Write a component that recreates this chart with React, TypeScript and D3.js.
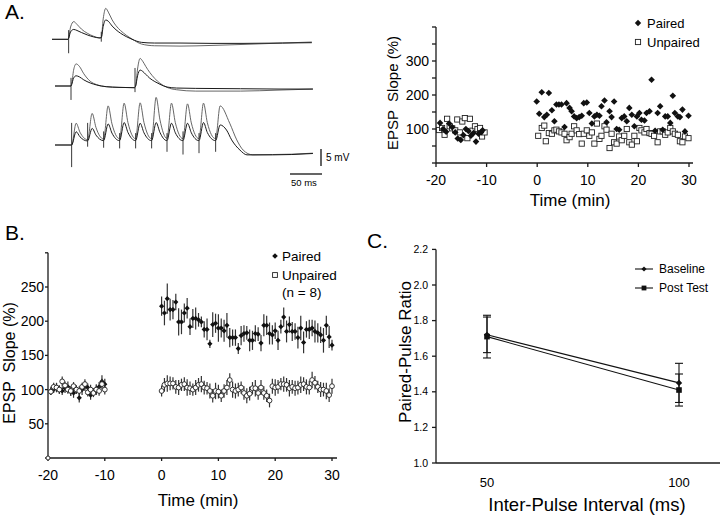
import React from 'react';
import * as d3 from 'd3';

const FONT = "'Liberation Sans', Arial, Helvetica, sans-serif";

// ---------------- Panel A: traces (ms, mV) ----------------
const tr1Large: [number, number][] = [[0,0],[25,0],[26,0.3],[29,3.6],[34,5.2],[39,4.4],[46,3.0],[55,1.8],[65,0.9],[75,0.4],[77,0.6],[80,6],[84,9.1],[88,8.0],[94,5.7],[100,4.0],[107,2.6],[116,1.2],[125,0.1],[140,-1.4],[160,-1.9],[200,-2.0],[250,-1.8],[300,-1.5],[360,-1.1],[406,-0.8]];
const tr1Small: [number, number][] = [[0,0],[25,0],[26,0.3],[29,2.2],[34,2.9],[39,2.6],[46,2.0],[55,1.3],[65,0.7],[75,0.4],[77,0.5],[80,3.8],[84,5.7],[88,5.3],[94,3.9],[100,2.8],[107,1.8],[116,0.8],[125,0.0],[140,-0.9],[160,-1.1],[200,-1.1],[250,-1.2],[300,-1.2],[360,-1.1],[406,-1.0]];
const tr1Stims: [number, number, number][] = [[26,-4.1,2.7],[77,-0.7,2.2]];

const tr2Large: [number, number][] = [[0,0],[25,0],[26,0.5],[29,4.6],[33,6.5],[38,5.8],[45,3.6],[55,1.4],[65,0.4],[80,-0.2],[100,-0.4],[124,-0.5],[126,0],[129,5],[133,8.1],[137,7.3],[142,5.7],[148,4.0],[156,2.2],[164,0.8],[175,-0.4],[190,-1.1],[220,-1.5],[290,-1.5],[350,-1.2],[403,-0.9]];
const tr2Small: [number, number][] = [[0,0],[25,0],[26,0.4],[29,2.3],[33,3.0],[38,2.7],[45,1.8],[55,0.9],[65,0.3],[80,-0.2],[100,-0.4],[124,-0.5],[126,0],[129,3.0],[133,4.7],[137,4.3],[142,3.4],[148,2.3],[156,1.3],[164,0.5],[175,-0.3],[190,-0.6],[220,-0.7],[290,-0.8],[350,-0.9],[403,-0.9]];
const tr2Stims: [number, number, number][] = [[25,-4.1,2.4],[125,-1.8,5.3]];

const tr3StimT = [26, 51, 76, 101, 126, 151, 175, 200, 225, 251];
const tr3PeakLarge = [6.4, 9.3, 11.5, 12.3, 12.4, 14.0, 12.3, 12.1, 12.3, 11.5];
const tr3PeakSmall = [3.9, 4.9, 6.2, 6.6, 6.4, 6.6, 6.4, 6.4, 6.6, 5.9];
const tr3TroughLarge = [0, 1.6, 1.8, 1.9, 1.9, 1.9, 2.0, 1.9, 1.9, 1.9];
const tr3TroughSmall = [0, 1.2, 1.3, 1.3, 1.3, 1.3, 1.3, 1.3, 1.3, 1.3];
const tr3TailLarge: [number, number][] = [[273, 6.4],[284, 1.5],[294,-1.5],[309,-2.9],[340,-2.8],[370,-2.7],[403,-2.4]];
const tr3TailSmall: [number, number][] = [[268, 4.4],[276, 1.5],[289,-1.5],[300,-2.9],[340,-2.9],[370,-2.8],[403,-2.5]];
const tr3Stims: [number, number, number][] = [[26,-6.5,6.5],[51,-0.5,6.5],[76,-0.8,4],[101,-1,3.5],[126,-1,3.5],[151,-1,3.5],[175,-2,3.5],[200,-2.8,4],[225,-2.4,3.5],[251,-2.0,3.5]];

// ---------------- Panel A: scatter ----------------
const aPairedT = [-19.2,-18.6,-18.0,-17.4,-16.8,-16.2,-15.7,-15.1,-14.6,-14.1,-13.6,-13.1,-12.6,-12.1,-11.6,-11.1,-10.8,
  -0.1,0.4,0.9,1.4,1.9,2.3,2.9,3.4,3.8,4.3,4.8,5.4,5.8,6.4,6.8,7.3,7.8,8.3,8.8,9.2,9.8,10.3,10.8,11.3,11.8,12.3,12.7,13.3,13.7,14.3,14.7,15.2,15.7,16.2,16.7,17.2,17.7,18.2,18.7,19.2,19.7,20.2,20.6,21.2,21.6,22.2,22.6,23.3,23.8,24.3,24.8,25.3,25.8,26.3,26.8,27.2,27.8,28.2,28.7,29.2,29.9];
const aPairedV = [118,100,92,116,105,90,72,68,82,100,94,80,88,63,86,90,96,
  181,145,208,135,142,206,155,123,172,172,172,106,176,162,152,137,132,135,139,176,178,147,116,137,142,139,167,184,120,152,135,181,100,98,132,137,123,162,142,108,137,147,127,125,147,152,245,95,147,167,98,137,137,118,198,147,137,135,157,93,139];
const aUnpT = [-19.4,-18.8,-18.3,-17.8,-17.3,-16.8,-16.2,-15.8,-15.3,-14.8,-14.3,-13.8,-13.3,-12.8,-12.3,-11.8,-11.3,-10.9,-10.4,
  0.2,0.9,1.4,1.7,2.3,2.9,3.4,3.8,4.3,4.8,5.4,5.8,6.4,6.8,7.3,7.8,8.3,8.8,9.2,9.8,10.3,10.8,11.3,11.8,12.3,12.7,13.3,13.7,14.3,14.7,15.2,15.7,16.2,16.7,17.2,17.7,18.2,18.7,19.2,19.7,20.2,20.6,21.2,21.6,22.2,22.6,23.1,23.8,24.3,24.8,25.3,25.8,26.3,26.8,27.2,27.8,28.2,28.7,29.2,29.9];
const aUnpV = [97,103,83,130,108,102,96,128,90,122,132,73,130,95,108,100,103,78,90,
  80,103,110,64,88,86,96,98,93,90,86,67,76,86,108,96,85,57,86,96,80,90,57,116,71,80,108,98,44,86,61,57,78,67,80,100,61,54,80,64,103,96,90,100,88,86,80,61,93,93,83,90,103,93,86,83,64,61,78,73];

// ---------------- Panel B ----------------
const bBaseT = d3.range(-19.5, -9.9, 0.5);
const bPostT = d3.range(0, 30.01, 0.5);
const bPairedBase = [98,100,103,100,98,102,104,97,95,100,88,100,105,103,92,96,100,104,112,108];
const bPairedBaseErr = [6,5,7,6,6,7,8,6,7,6,7,8,7,6,7,6,8,7,9,8];
const bUnpBase = [97,104,103,100,112,106,100,98,105,100,98,104,108,96,100,95,100,98,108,100];
const bUnpBaseErr = [5,6,6,6,7,6,6,7,6,6,7,6,7,6,7,6,6,7,8,7];
const bPairedPost = [222,212,233,217,217,228,199,199,212,219,192,204,204,202,199,188,188,167,195,197,190,190,186,194,176,176,176,160,179,182,183,172,172,182,181,168,194,194,182,180,186,172,192,206,185,195,185,185,176,190,169,188,188,190,185,183,180,172,194,177,165];
const bPairedPostErr = [14,18,22,16,14,12,20,18,14,15,12,14,16,10,8,12,16,6,18,14,20,14,16,18,14,12,12,8,14,12,10,16,14,12,10,12,16,14,16,14,12,14,10,14,16,12,14,12,16,18,16,12,14,12,16,14,12,18,14,16,8];
const bUnpPost = [98,107,109,109,109,104,103,107,108,103,102,100,103,107,108,103,102,98,91,98,97,91,98,103,114,100,98,100,103,95,91,94,102,102,95,103,95,91,84,105,103,104,108,108,107,102,104,102,103,107,108,104,103,114,110,104,100,100,98,92,105];
const bUnpPostErr = [8,10,12,10,9,10,11,9,10,12,10,9,11,10,12,10,9,11,10,12,10,9,10,11,10,12,11,10,9,10,11,10,9,12,10,11,10,9,10,11,12,10,9,11,10,12,10,11,10,12,10,11,10,12,10,9,11,10,12,10,11];

// ---------------- Panel C ----------------
const cIntervals = [50, 100];
const cBaseline = [1.72, 1.45];
const cBaselineErr = [0.10, 0.11];
const cPost = [1.71, 1.41];
const cPostErr = [0.12, 0.09];
const cYTicks = [1.0, 1.2, 1.4, 1.6, 1.8, 2.0, 2.2];

const diamond = (r: number) => `M0,${-r}L${r},0L0,${r}L${-r},0Z`;

function Trace({ x0, y0, large, small, stims }: { x0: number; y0: number; large: [number, number][]; small: [number, number][]; stims: [number, number, number][] }) {
  const x = d3.scaleLinear().domain([0, 50]).range([x0, x0 + 32]);
  const y = d3.scaleLinear().domain([0, 5]).range([y0, y0 - 17]);
  const line = d3.line<[number, number]>().x(d => x(d[0])).y(d => y(d[1])).curve(d3.curveMonotoneX);
  return (
    <g fill="none">
      <path d={line(large) || ''} stroke="#555" strokeWidth={0.9} />
      <path d={line(small) || ''} stroke="#1a1a1a" strokeWidth={1} />
      {stims.map((s, i) => (
        <line key={i} x1={x(s[0])} x2={x(s[0])} y1={y(s[1])} y2={y(s[2])} stroke="#222" strokeWidth={0.9} />
      ))}
    </g>
  );
}

function buildTrain(stim: number[], peaks: number[], troughs: number[], tail: [number, number][]): [number, number][] {
  const pts: [number, number][] = [[0, 0], [stim[0] - 1, 0]];
  stim.forEach((t, k) => {
    const tr = troughs[k];
    const pk = peaks[k];
    const next = k + 1 < stim.length ? troughs[k + 1] : null;
    pts.push([t, tr]);
    pts.push([t + 7, pk]);
    if (next !== null) {
      pts.push([t + 13, next + (pk - next) * 0.45]);
      pts.push([stim[k + 1] - 0.5, next]);
    }
  });
  return pts.concat(tail);
}

export default function App() {
  // Panel A scatter scales
  const xA = d3.scaleLinear().domain([-20, 30]).range([436, 689]);
  const yA = d3.scaleLinear().domain([0, 400]).range([163, 27]);
  // Panel B
  const xB = d3.scaleLinear().domain([-20, 30]).range([48, 332]);
  const yB = d3.scaleLinear().domain([0, 300]).range([458, 252.8]);
  // Panel C
  const xC = d3.scaleLinear().domain([50, 100]).range([487, 679]);
  const yC = d3.scaleLinear().domain([1, 2.2]).range([463, 249.4]);

  const t3Large = buildTrain(tr3StimT, tr3PeakLarge, tr3TroughLarge, tr3TailLarge);
  const t3Small = buildTrain(tr3StimT, tr3PeakSmall, tr3TroughSmall, tr3TailSmall);

  const ax = '#1a1a1a';
  const cLine = d3.line<number>().x((_, i) => xC(cIntervals[i])).y(d => yC(d));

  return (
    <svg width={720} height={516} style={{ position: 'absolute', left: 0, top: 0, background: '#fff' }} fontFamily={FONT}>
      <rect width={720} height={516} fill="#fff" />
      {/* Panel labels */}
      <text x={5} y={19} fontSize={21}>A.</text>
      <text x={5} y={240} fontSize={21}>B.</text>
      <text x={367} y={248} fontSize={21}>C.</text>

      {/* ---------- Panel A traces ---------- */}
      <Trace x0={52} y0={39.3} large={tr1Large} small={tr1Small} stims={tr1Stims} />
      <Trace x0={55} y0={86} large={tr2Large} small={tr2Small} stims={tr2Stims} />
      <Trace x0={55} y0={145} large={t3Large} small={t3Small} stims={tr3Stims} />
      {/* scale bars */}
      <line x1={321} x2={321} y1={149} y2={166} stroke="#111" strokeWidth={1.3} />
      <text x={326} y={161} fontSize={10}>5 mV</text>
      <line x1={290} x2={322} y1={174} y2={174} stroke="#111" strokeWidth={1.3} />
      <text x={291} y={186} fontSize={9.5}>50 ms</text>

      {/* ---------- Panel A scatter ---------- */}
      <g stroke={ax} strokeWidth={1.3}>
        <line x1={436} x2={436} y1={yA(400)} y2={yA(0)} />
        <line x1={436} x2={693} y1={163} y2={163} />
        {d3.range(0, 401, 50).map(v => <line key={v} x1={432} x2={436} y1={yA(v)} y2={yA(v)} />)}
        {d3.range(-20, 31, 10).map(v => <line key={v} x1={xA(v)} x2={xA(v)} y1={163} y2={167} />)}
      </g>
      {[100, 200, 300].map(v => (
        <text key={v} x={429} y={yA(v) + 5} fontSize={14} textAnchor="end">{v}</text>
      ))}
      {d3.range(-20, 31, 10).map(v => (
        <text key={v} x={xA(v)} y={185} fontSize={14} textAnchor="middle">{v}</text>
      ))}
      <text x={570} y={206} fontSize={17} textAnchor="middle">Time (min)</text>
      <text transform={`translate(398,93) rotate(-90)`} fontSize={15} textAnchor="middle" style={{ whiteSpace: 'pre' }}>EPSP  Slope (%)</text>
      {aUnpT.map((t, i) => (
        <rect key={'u' + i} x={xA(t) - 2.6} y={yA(aUnpV[i]) - 2.6} width={5.2} height={5.2} fill="#fff" stroke="#222" strokeWidth={0.9} />
      ))}
      {aPairedT.map((t, i) => (
        <path key={'p' + i} d={diamond(3.3)} transform={`translate(${xA(t)},${yA(aPairedV[i])})`} fill="#111" />
      ))}
      {/* legend A */}
      <path d={diamond(3.2)} transform="translate(638,23)" fill="#111" />
      <text x={647} y={27.5} fontSize={13}>Paired</text>
      <rect x={635.4} y={39.4} width={5.2} height={5.2} fill="#fff" stroke="#222" strokeWidth={0.9} />
      <text x={647} y={46.5} fontSize={13}>Unpaired</text>

      {/* ---------- Panel B ---------- */}
      <g stroke={ax} strokeWidth={1.3}>
        <line x1={48} x2={48} y1={yB(300)} y2={yB(0)} />
        <line x1={48} x2={337} y1={458} y2={458} />
        {d3.range(0, 301, 50).map(v => <line key={v} x1={45} x2={48} y1={yB(v)} y2={yB(v)} />)}
        {d3.range(-20, 31, 10).map(v => <line key={v} x1={xB(v)} x2={xB(v)} y1={458} y2={461} />)}
      </g>
      <circle cx={48} cy={458} r={2} fill="#fff" stroke="#222" strokeWidth={0.9} />
      {d3.range(50, 251, 50).map(v => (
        <text key={v} x={44} y={yB(v) + 5} fontSize={14} textAnchor="end">{v}</text>
      ))}
      {d3.range(-20, 31, 10).map(v => (
        <text key={v} x={xB(v)} y={480} fontSize={14} textAnchor="middle">{v}</text>
      ))}
      <text x={198} y={506} fontSize={17} textAnchor="middle">Time (min)</text>
      <text transform={`translate(15,363) rotate(-90)`} fontSize={16} textAnchor="middle" style={{ whiteSpace: 'pre' }}>EPSP  Slope (%)</text>
      {/* paired error bars and points */}
      <g stroke="#333" strokeWidth={1.2}>
        {bBaseT.map((t, i) => <line key={'pb' + i} x1={xB(t)} x2={xB(t)} y1={yB(bPairedBase[i] - bPairedBaseErr[i])} y2={yB(bPairedBase[i] + bPairedBaseErr[i])} />)}
        {bPostT.map((t, i) => <line key={'pp' + i} x1={xB(t)} x2={xB(t)} y1={yB(bPairedPost[i] - bPairedPostErr[i])} y2={yB(bPairedPost[i] + bPairedPostErr[i])} />)}
      </g>
      {bBaseT.map((t, i) => <path key={'pbd' + i} d={diamond(2.6)} transform={`translate(${xB(t)},${yB(bPairedBase[i])})`} fill="#111" />)}
      {bPostT.map((t, i) => <path key={'ppd' + i} d={diamond(2.6)} transform={`translate(${xB(t)},${yB(bPairedPost[i])})`} fill="#111" />)}
      <g stroke="#333" strokeWidth={1.2}>
        {bBaseT.map((t, i) => <line key={'ub' + i} x1={xB(t)} x2={xB(t)} y1={yB(bUnpBase[i] - bUnpBaseErr[i])} y2={yB(bUnpBase[i] + bUnpBaseErr[i])} />)}
        {bPostT.map((t, i) => <line key={'up' + i} x1={xB(t)} x2={xB(t)} y1={yB(bUnpPost[i] - bUnpPostErr[i])} y2={yB(bUnpPost[i] + bUnpPostErr[i])} />)}
      </g>
      {bBaseT.map((t, i) => <circle key={'ubc' + i} cx={xB(t)} cy={yB(bUnpBase[i])} r={2.4} fill="#fff" stroke="#222" strokeWidth={0.9} />)}
      {bPostT.map((t, i) => <circle key={'upc' + i} cx={xB(t)} cy={yB(bUnpPost[i])} r={2.4} fill="#fff" stroke="#222" strokeWidth={0.9} />)}
      {/* legend B */}
      <path d={diamond(2.8)} transform="translate(275,256)" fill="#111" />
      <text x={282} y={261} fontSize={13.5}>Paired</text>
      <rect x={272.6} y={272.6} width={4.8} height={4.8} fill="#fff" stroke="#222" strokeWidth={0.9} />
      <text x={282} y={280} fontSize={13.5}>Unpaired</text>
      <text x={282} y={297} fontSize={13.5}>(n = 8)</text>

      {/* ---------- Panel C ---------- */}
      <g stroke={ax} strokeWidth={1.3}>
        <line x1={436} x2={436} y1={yC(2.2)} y2={yC(1)} />
        <line x1={436} x2={720} y1={463} y2={463} />
        {cYTicks.map(v => <line key={v} x1={432} x2={436} y1={yC(v)} y2={yC(v)} />)}
      </g>
      {cYTicks.map(v => (
        <text key={v} x={428} y={yC(v) + 3.5} fontSize={10.5} textAnchor="end">{v.toFixed(1)}</text>
      ))}
      {cIntervals.map(v => (
        <text key={v} x={xC(v)} y={487} fontSize={13} textAnchor="middle">{v}</text>
      ))}
      <text x={587} y={511} fontSize={18.5} textAnchor="middle">Inter-Pulse Interval (ms)</text>
      <text transform={`translate(411,352) rotate(-90)`} fontSize={17} textAnchor="middle">Paired-Pulse Ratio</text>
      <g stroke="#111" strokeWidth={1.1} fill="none">
        <path d={cLine(cBaseline) || ''} />
        <path d={cLine(cPost) || ''} />
        {cIntervals.map((v, i) => (
          <g key={v}>
            <line x1={xC(v)} x2={xC(v)} y1={yC(cBaseline[i] - cBaselineErr[i])} y2={yC(cBaseline[i] + cBaselineErr[i])} />
            <line x1={xC(v) - 4} x2={xC(v) + 4} y1={yC(cBaseline[i] - cBaselineErr[i])} y2={yC(cBaseline[i] - cBaselineErr[i])} />
            <line x1={xC(v) - 4} x2={xC(v) + 4} y1={yC(cBaseline[i] + cBaselineErr[i])} y2={yC(cBaseline[i] + cBaselineErr[i])} />
            <line x1={xC(v)} x2={xC(v)} y1={yC(cPost[i] - cPostErr[i])} y2={yC(cPost[i] + cPostErr[i])} />
            <line x1={xC(v) - 4} x2={xC(v) + 4} y1={yC(cPost[i] - cPostErr[i])} y2={yC(cPost[i] - cPostErr[i])} />
            <line x1={xC(v) - 4} x2={xC(v) + 4} y1={yC(cPost[i] + cPostErr[i])} y2={yC(cPost[i] + cPostErr[i])} />
          </g>
        ))}
      </g>
      {cIntervals.map((v, i) => (
        <path key={'cb' + i} d={diamond(3.2)} transform={`translate(${xC(v)},${yC(cBaseline[i])})`} fill="#111" />
      ))}
      {cIntervals.map((v, i) => (
        <rect key={'cp' + i} x={xC(v) - 2.8} y={yC(cPost[i]) - 2.8} width={5.6} height={5.6} fill="#111" />
      ))}
      {/* legend C */}
      <line x1={635} x2={653} y1={269} y2={269} stroke="#111" strokeWidth={1.1} />
      <path d={diamond(2.6)} transform="translate(644,269)" fill="#111" />
      <text x={659} y={273} fontSize={12}>Baseline</text>
      <line x1={635} x2={653} y1={288} y2={288} stroke="#111" strokeWidth={1.1} />
      <rect x={641.6} y={285.6} width={4.8} height={4.8} fill="#111" />
      <text x={659} y={292} fontSize={12}>Post Test</text>
    </svg>
  );
}
